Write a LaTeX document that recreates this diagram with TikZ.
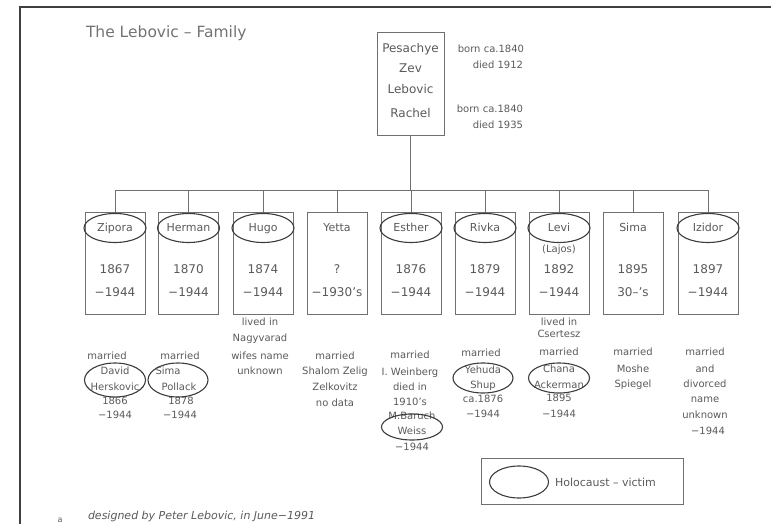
\documentclass[tikz,border=0pt]{standalone}
\usepackage{fontspec}
\setmainfont{DejaVu Sans}
\usetikzlibrary{shapes.geometric}
\definecolor{ink}{HTML}{5A5A5A}
\definecolor{linec}{HTML}{707070}
\definecolor{ringc}{HTML}{3C3C3C}
\definecolor{framec}{HTML}{404040}
\begin{document}
\begin{tikzpicture}[x=1pt,y=-1pt,
  every node/.style={text=ink,inner sep=0pt,outer sep=0pt},
  conn/.style={draw=linec,line width=0.8pt},
  kid/.style={draw=linec,line width=0.8pt,minimum width=60pt,minimum height=102pt},
  ring/.style={draw=ringc,line width=1.1pt,ellipse,minimum width=#1},
  ring/.default=61pt,
  nm/.style={font=\fontsize{11}{13}\selectfont,text height=8pt,text depth=2pt},
  yr/.style={font=\fontsize{12}{14}\selectfont,text height=8.5pt,text depth=2pt},
  sm/.style={font=\fontsize{10}{12}\selectfont,text height=7.5pt,text depth=2pt},
  tf/.style={font=\fontsize{12}{14}\selectfont,text height=8.5pt,text depth=2pt}
]
\useasboundingbox (0,0) rectangle (771,524);
% frame
\draw[draw=framec,line width=1.6pt] (20,530) -- (20,7) -- (775,7);

% title
\node[font=\fontsize{15.5}{18}\selectfont,text=ink!85,anchor=west] (title) at (86,33) {The Lebovic – Family};

% parents
\node[draw=linec,line width=0.8pt,minimum width=67pt,minimum height=103pt] (top) at (410.5,83.5) {};
\node[tf] (tp1) at (410.5,49) {Pesachye};
\node[tf] (tp2) at (410.5,69) {Zev};
\node[tf] (tp3) at (410.5,90) {Lebovic};
\node[tf] (tp4) at (410.5,114) {Rachel};
\node[sm,anchor=east] (pb1) at (524,50) {born ca.1840};
\node[sm,anchor=east] (pd1) at (523,66) {died 1912};
\node[sm,anchor=east] (pb2) at (523,110) {born ca.1840};
\node[sm,anchor=east] (pd2) at (523,126) {died 1935};

% children boxes
\foreach \i/\x in {1/115,2/188.5,3/263,4/337,5/411,6/485,7/559,8/633,9/708}
  \node[kid] (k\i) at (\x,263) {};

% connectors
\coordinate (barL) at (115,190);
\coordinate (barR) at (708,190);
\draw[conn] (barL) -- (barR);
\draw[conn] (top.south) -- (top.south |- barL);
\foreach \i in {1,...,9}
  \draw[conn] (k\i.north) -- (k\i.north |- barL);

% name ellipses
\foreach \i in {1,2,3,5,6,7,9}
  \node[ring=62pt,minimum height=29pt] (e\i) at (k\i.center |- 0,228) {};

% names and years
\foreach \i/\n/\a/\b in {1/Zipora/1867/−1944,2/Herman/1870/−1944,3/Hugo/1874/−1944,4/Yetta/?/−1930’s,5/Esther/1876/−1944,6/Rivka/1879/−1944,7/Levi/1892/−1944,8/Sima/1895/30–’s,9/Izidor/1897/−1944}{
  \node[nm] (n\i) at (k\i.center |- 0,228) {\n};
  \node[yr] (ya\i) at (k\i.center |- 0,270) {\a};
  \node[yr] (yb\i) at (k\i.center |- 0,293) {\b};
}
\node[sm] (lajos) at (559,250) {(Lajos)};

% column 1
\node[sm] (m1) at (107,357) {married};
\node[sm] (s1a) at (115,372) {David};
\node[sm] (s1b) at (115,388) {Herskovic};
\node[sm] (s1c) at (115,402) {1866};
\node[sm] (s1d) at (115,416) {−1944};
\node[ring=61pt,minimum height=34pt] (sp1) at (115,380) {};
% column 2
\node[sm] (m2) at (180,357) {married};
\node[sm] (s2a) at (168,372) {Sima};
\node[sm] (s2b) at (179,388) {Pollack};
\node[sm] (s2c) at (181,402) {1878};
\node[sm] (s2d) at (180,416) {−1944};
\node[ring=60pt,minimum height=34pt] (sp2) at (178,380) {};
% column 3
\node[sm] (l3a) at (260,323) {lived in};
\node[sm] (l3b) at (260,339) {Nagyvarad};
\node[sm] (s3a) at (260,357) {wifes name};
\node[sm] (s3b) at (260,372) {unknown};
% column 4
\node[sm] (m4) at (335,357) {married};
\node[sm] (s4a) at (335,372) {Shalom Zelig};
\node[sm] (s4b) at (335,388) {Zelkovitz};
\node[sm] (s4c) at (335,404) {no data};
% column 5
\node[sm] (m5) at (410,356) {married};
\node[sm] (s5a) at (410,373) {I. Weinberg};
\node[sm] (s5b) at (410,388) {died in};
\node[sm] (s5c) at (410,403) {1910’s};
\node[sm] (s5d) at (412,417) {M.Baruch};
\node[sm] (s5e) at (412,432) {Weiss};
\node[sm] (s5f) at (412,448) {−1944};
\node[ring=61pt,minimum height=26pt] (sp5) at (412,427) {};
% column 6
\node[sm] (m6) at (481,354) {married};
\node[sm] (s6a) at (483,371) {Yehuda};
\node[sm] (s6b) at (483,386) {Shup};
\node[sm] (s6c) at (483,400) {ca.1876};
\node[sm] (s6d) at (483,415) {−1944};
\node[ring=60pt,minimum height=30pt] (sp6) at (483,378) {};
% column 7
\node[sm] (l7a) at (559,323) {lived in};
\node[sm] (l7b) at (559,335) {Csertesz};
\node[sm] (m7) at (559,353) {married};
\node[sm] (s7a) at (559,370) {Chana};
\node[sm] (s7b) at (559,386) {Ackerman};
\node[sm] (s7c) at (559,399) {1895};
\node[sm] (s7d) at (559,415) {−1944};
\node[ring=61pt,minimum height=30pt] (sp7) at (559,378) {};
% column 8
\node[sm] (m8) at (633,353) {married};
\node[sm] (s8a) at (633,370) {Moshe};
\node[sm] (s8b) at (633,385) {Spiegel};
% column 9
\node[sm] (m9) at (705,353) {married};
\node[sm] (s9a) at (705,370) {and};
\node[sm] (s9b) at (705,385) {divorced};
\node[sm] (s9c) at (705,400) {name};
\node[sm] (s9d) at (705,416) {unknown};
\node[sm] (s9e) at (708,432) {−1944};

% legend
\node[draw=linec,line width=0.8pt,minimum width=202pt,minimum height=46pt] (legend) at (582,481) {};
\node[ring=59pt,minimum height=32pt] (legring) at (519,482) {};
\node[font=\fontsize{11}{13}\selectfont,anchor=west] (legtext) at (555,482) {Holocaust – victim};

% footer
\node[font=\fontsize{11}{13}\selectfont\itshape,anchor=west] (designer) at (88,516) {designed by Peter Lebovic, in June−1991};
\node[font=\fontsize{8}{10}\selectfont,anchor=south] (pgmark) at (60,523) {a};
\end{tikzpicture}
\end{document}
